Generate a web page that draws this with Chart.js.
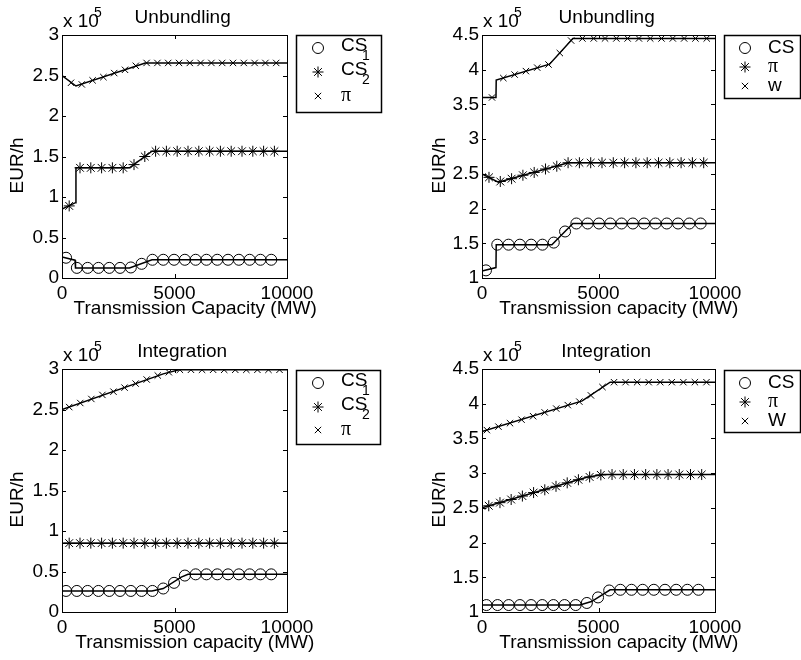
<!DOCTYPE html>
<html>
<head>
<meta charset="utf-8">
<script src="https://cdn.jsdelivr.net/npm/chart.js@4.4.1/dist/chart.umd.min.js"></script>
<style>
body { margin: 0; background: #fff; }
#wrap { position: relative; width: 801px; height: 660px; }
canvas { position: absolute; }
</style>
</head>
<body>
<div id="wrap">
<canvas id="c1" width="400" height="330" style="left:0;top:0"></canvas>
<canvas id="c2" width="401" height="330" style="left:400px;top:0"></canvas>
<canvas id="c3" width="400" height="330" style="left:0;top:330px"></canvas>
<canvas id="c4" width="401" height="330" style="left:400px;top:330px"></canvas>
</div>
<script>
const FONT = "'Liberation Sans', Arial, Helvetica, sans-serif"
const SERIF = "'Liberation Serif', 'DejaVu Serif', serif"

const x_ticks = [0, 5000, 10000]

// Unbundling (left): CS1, CS2, pi   -- values in 1e5 EUR/h
const ub_cs1_line_x = [0, 580, 600, 3000, 4000, 10000]
const ub_cs1_line_y = [0.26, 0.22, 0.125, 0.125, 0.225, 0.225]
const ub_cs1_mark_x = [180, 660, 1140, 1620, 2100, 2580, 3060, 3540, 4020, 4500, 4980, 5460, 5940, 6420, 6900, 7380, 7860, 8340, 8820, 9300]
const ub_cs1_mark_y = [0.25, 0.125, 0.125, 0.125, 0.125, 0.125, 0.13, 0.175, 0.225, 0.225, 0.225, 0.225, 0.225, 0.225, 0.225, 0.225, 0.225, 0.225, 0.225, 0.225]

const ub_cs2_line_x = [0, 600, 620, 3000, 4000, 10000]
const ub_cs2_line_y = [0.85, 0.93, 1.36, 1.36, 1.565, 1.565]
const ub_cs2_mark_x = [320, 800, 1280, 1760, 2240, 2720, 3200, 3680, 4160, 4640, 5120, 5600, 6080, 6560, 7040, 7520, 8000, 8480, 8960, 9440]
const ub_cs2_mark_y = [0.89, 1.36, 1.36, 1.36, 1.36, 1.36, 1.40, 1.50, 1.565, 1.565, 1.565, 1.565, 1.565, 1.565, 1.565, 1.565, 1.565, 1.565, 1.565, 1.565]

const ub_pi_line_x = [0, 620, 3700, 10000]
const ub_pi_line_y = [2.5, 2.37, 2.655, 2.655]
const ub_pi_mark_x = [400, 880, 1360, 1840, 2320, 2800, 3280, 3760, 4240, 4720, 5200, 5680, 6160, 6640, 7120, 7600, 8080, 8560, 9040, 9520]
const ub_pi_mark_y = [2.41, 2.39, 2.44, 2.48, 2.53, 2.57, 2.62, 2.655, 2.655, 2.655, 2.655, 2.655, 2.655, 2.655, 2.655, 2.655, 2.655, 2.655, 2.655, 2.655]

// Unbundling (right): CS, pi, w
const ubt_cs_line_x = [0, 600, 610, 3000, 3900, 10000]
const ubt_cs_line_y = [1.10, 1.15, 1.48, 1.48, 1.785, 1.785]
const ubt_cs_mark_x = [170, 655, 1140, 1625, 2110, 2595, 3080, 3565, 4050, 4535, 5020, 5505, 5990, 6475, 6960, 7445, 7930, 8415, 8900, 9385]
const ubt_cs_mark_y = [1.11, 1.48, 1.48, 1.48, 1.48, 1.48, 1.51, 1.67, 1.785, 1.785, 1.785, 1.785, 1.785, 1.785, 1.785, 1.785, 1.785, 1.785, 1.785, 1.785]

const ubt_pi_line_x = [0, 700, 3700, 10000]
const ubt_pi_line_y = [2.5, 2.38, 2.66, 2.66]
const ubt_pi_mark_x = [300, 785, 1270, 1755, 2240, 2725, 3210, 3695, 4180, 4665, 5150, 5635, 6120, 6605, 7090, 7575, 8060, 8545, 9030, 9515]
const ubt_pi_mark_y = [2.45, 2.39, 2.43, 2.48, 2.52, 2.57, 2.61, 2.66, 2.66, 2.66, 2.66, 2.66, 2.66, 2.66, 2.66, 2.66, 2.66, 2.66, 2.66, 2.66]

const ubt_w_line_x = [0, 600, 610, 2900, 3900, 10000]
const ubt_w_line_y = [3.6, 3.6, 3.85, 4.08, 4.45, 4.45]
const ubt_w_mark_x = [430, 915, 1400, 1885, 2370, 2855, 3340, 3825, 4310, 4795, 5280, 5765, 6250, 6735, 7220, 7705, 8190, 8675, 9160, 9645]
const ubt_w_mark_y = [3.6, 3.88, 3.93, 3.98, 4.03, 4.075, 4.24, 4.42, 4.45, 4.45, 4.45, 4.45, 4.45, 4.45, 4.45, 4.45, 4.45, 4.45, 4.45, 4.45]

// Integration (left): CS1, CS2, pi
const in_cs1_line_x = [0, 4000, 4500, 5300, 5600, 10000]
const in_cs1_line_y = [0.26, 0.26, 0.29, 0.43, 0.465, 0.465]
const in_cs1_mark_x = [180, 660, 1140, 1620, 2100, 2580, 3060, 3540, 4020, 4500, 4980, 5460, 5940, 6420, 6900, 7380, 7860, 8340, 8820, 9300]
const in_cs1_mark_y = [0.26, 0.26, 0.26, 0.26, 0.26, 0.26, 0.26, 0.26, 0.26, 0.29, 0.36, 0.45, 0.465, 0.465, 0.465, 0.465, 0.465, 0.465, 0.465, 0.465]

const in_cs2_line_x = [0, 10000]
const in_cs2_line_y = [0.85, 0.85]
const in_cs2_mark_x = [320, 800, 1280, 1760, 2240, 2720, 3200, 3680, 4160, 4640, 5120, 5600, 6080, 6560, 7040, 7520, 8000, 8480, 8960, 9440]
const in_cs2_mark_y = [0.85, 0.85, 0.85, 0.85, 0.85, 0.85, 0.85, 0.85, 0.85, 0.85, 0.85, 0.85, 0.85, 0.85, 0.85, 0.85, 0.85, 0.85, 0.85, 0.85]

const in_pi_line_x = [0, 4500, 5200, 10000]
const in_pi_line_y = [2.5, 2.94, 2.99, 2.99]
const in_pi_mark_x = [320, 812, 1304, 1796, 2288, 2780, 3272, 3764, 4256, 4748, 5240, 5732, 6224, 6716, 7208, 7700, 8192, 8684, 9176, 9668]
const in_pi_mark_y = [2.53, 2.58, 2.63, 2.68, 2.72, 2.77, 2.82, 2.87, 2.92, 2.96, 2.99, 2.99, 2.99, 2.99, 2.99, 2.99, 2.99, 2.99, 2.99, 2.99]

// Integration (right): CS, pi, W
const int_cs_line_x = [0, 4200, 4700, 5500, 10000]
const int_cs_line_y = [1.1, 1.1, 1.15, 1.32, 1.32]
const int_cs_mark_x = [190, 669, 1148, 1627, 2106, 2585, 3064, 3543, 4022, 4501, 4980, 5459, 5938, 6417, 6896, 7375, 7854, 8333, 8812, 9291]
const int_cs_mark_y = [1.1, 1.1, 1.1, 1.1, 1.1, 1.1, 1.1, 1.1, 1.1, 1.13, 1.21, 1.31, 1.32, 1.32, 1.32, 1.32, 1.32, 1.32, 1.32, 1.32]

const int_pi_line_x = [0, 4500, 5200, 10000]
const int_pi_line_y = [2.5, 2.94, 2.98, 2.98]
const int_pi_mark_x = [290, 771, 1252, 1733, 2214, 2695, 3176, 3657, 4138, 4619, 5100, 5581, 6062, 6543, 7024, 7505, 7986, 8467, 8948, 9429]
const int_pi_mark_y = [2.53, 2.575, 2.62, 2.67, 2.72, 2.76, 2.81, 2.86, 2.905, 2.945, 2.975, 2.98, 2.98, 2.98, 2.98, 2.98, 2.98, 2.98, 2.98, 2.98]

const int_w_line_x = [0, 4300, 5500, 10000]
const int_w_line_y = [3.6, 4.04, 4.31, 4.31]
const int_w_mark_x = [210, 706, 1202, 1698, 2194, 2690, 3186, 3682, 4178, 4674, 5170, 5666, 6162, 6658, 7154, 7650, 8146, 8642, 9138, 9634]
const int_w_mark_y = [3.62, 3.67, 3.72, 3.77, 3.82, 3.875, 3.93, 3.98, 4.03, 4.12, 4.24, 4.31, 4.31, 4.31, 4.31, 4.31, 4.31, 4.31, 4.31, 4.31]

const draw_marker = (ctx, style, r, x, y) => {
    ctx.beginPath()
    if (style === 'circle') {
        ctx.arc(x, y, r, 0, Math.PI * 2)
    } else {
        const angles = style === 'star' ? [0, 45, 90, 135] : [45, 135]
        angles.forEach(d => {
            const c = Math.cos(d * Math.PI / 180) * r
            const s = Math.sin(d * Math.PI / 180) * r
            ctx.moveTo(x - c, y - s)
            ctx.lineTo(x + c, y + s)
        })
    }
    ctx.stroke()
}

// matlab-like box, inner ticks, titles and legend
const frame_plugin = cfg => ({
    id: 'mlFrame',
    afterDraw(chart) {
        const {ctx, chartArea: a} = chart
        const xs = chart.scales.x, ys = chart.scales.y
        ctx.save()
        ctx.strokeStyle = '#000'
        ctx.fillStyle = '#000'
        ctx.lineWidth = 1
        ctx.strokeRect(a.left + 0.5, a.top + 0.5, a.right - a.left, a.bottom - a.top)
        ctx.beginPath()
        xs.ticks.forEach(t => {
            const px = Math.round(xs.getPixelForValue(t.value)) + 0.5
            ctx.moveTo(px, a.bottom); ctx.lineTo(px, a.bottom - 4)
            ctx.moveTo(px, a.top); ctx.lineTo(px, a.top + 4)
        })
        ys.ticks.forEach(t => {
            const py = Math.round(ys.getPixelForValue(t.value)) + 0.5
            ctx.moveTo(a.left, py); ctx.lineTo(a.left + 4, py)
            ctx.moveTo(a.right, py); ctx.lineTo(a.right - 4, py)
        })
        ctx.stroke()

        const cx = (a.left + a.right) / 2
        ctx.textBaseline = 'middle'
        ctx.textAlign = 'left'
        ctx.font = '19px ' + FONT
        let w = ctx.measureText(cfg.title).width
        ctx.fillText(cfg.title, cx - 0.415 * w, a.top - 17)
        w = ctx.measureText(cfg.xlabel).width
        ctx.fillText(cfg.xlabel, cx - 0.415 * w, a.bottom + 31)
        ctx.fillText('x 10', a.left + 1, a.top - 13)
        ctx.font = '14px ' + FONT
        ctx.fillText('5', a.left + 32, a.top - 22)

        ctx.save()
        ctx.font = '19px ' + FONT
        ctx.translate(cfg.ylabel_x, (a.top + a.bottom) / 2 + 9)
        ctx.rotate(-Math.PI / 2)
        ctx.textAlign = 'center'
        ctx.fillText('EUR/h', 0, 0)
        ctx.restore()

        const lg = cfg.legend
        ctx.fillStyle = '#fff'
        ctx.fillRect(lg.x, lg.y, lg.w, lg.h)
        ctx.lineWidth = 1.5
        ctx.strokeRect(lg.x + 0.5, lg.y + 0.5, lg.w, lg.h)
        ctx.lineWidth = 1
        ctx.fillStyle = '#000'
        cfg.series.forEach((s, i) => {
            const ry = lg.y + lg.rows[i]
            draw_marker(ctx, s.style, s.r, lg.x + lg.mx, ry)
            if (s.serif) {
                ctx.font = '20px ' + SERIF
                ctx.fillText(s.label, lg.x + lg.tx, ry)
            } else {
                ctx.font = '19px ' + FONT
                ctx.fillText(s.label, lg.x + lg.tx, s.sub ? ry - 2 : ry)
            }
            if (s.sub) {
                ctx.font = '14px ' + FONT
                ctx.fillText(s.sub, lg.x + lg.tx + 21, ry + 8)
            }
        })
        ctx.restore()
    }
})

const make_chart = (id, cfg) => {
    const canvas = document.getElementById(id)
    const a = cfg.area
    const datasets = []
    cfg.series.forEach(s => {
        datasets.push({
            data: s.lx.map((x, i) => ({x: x, y: s.ly[i]})),
            showLine: true,
            borderColor: '#000',
            borderWidth: 1.5,
            pointRadius: 0
        })
        datasets.push({
            data: s.mx.map((x, i) => ({x: x, y: s.my[i]})),
            showLine: false,
            pointStyle: s.style,
            pointRadius: s.r,
            pointBorderWidth: 1,
            borderColor: '#000',
            backgroundColor: 'rgba(0,0,0,0)'
        })
    })
    const tick_font = {family: FONT, size: 19}
    new Chart(canvas, {
        type: 'scatter',
        data: {datasets: datasets},
        options: {
            responsive: false,
            animation: false,
            events: [],
            layout: {padding: {left: 0, top: a.top, right: canvas.width - a.right, bottom: 0}},
            scales: {
                x: {
                    type: 'linear',
                    min: 0,
                    max: 10000,
                    afterBuildTicks: s => { s.ticks = x_ticks.map(v => ({value: v})) },
                    afterFit: s => { s.height = canvas.height - a.bottom },
                    grid: {display: false, drawTicks: false},
                    border: {display: false},
                    ticks: {font: tick_font, color: '#000', padding: 4, maxRotation: 0, autoSkip: false,
                            callback: v => String(v)}
                },
                y: {
                    type: 'linear',
                    min: cfg.ymin,
                    max: cfg.ymax,
                    afterFit: s => { s.width = a.left },
                    grid: {display: false, drawTicks: false},
                    border: {display: false},
                    ticks: {font: tick_font, color: '#000', padding: 3, stepSize: 0.5,
                            callback: v => String(v)}
                }
            },
            plugins: {
                legend: {display: false},
                tooltip: {enabled: false}
            }
        },
        plugins: [frame_plugin(cfg)]
    })
}

make_chart('c1', {
    area: {left: 62, top: 35, right: 287, bottom: 278},
    ymin: 0, ymax: 3,
    title: 'Unbundling', xlabel: 'Transmission Capacity (MW)', ylabel_x: 18,
    legend: {x: 296, y: 35, w: 85, h: 77, mx: 22, tx: 45, rows: [13, 37, 61]},
    series: [
        {label: 'CS', sub: '1', style: 'circle', r: 5.5, lx: ub_cs1_line_x, ly: ub_cs1_line_y, mx: ub_cs1_mark_x, my: ub_cs1_mark_y},
        {label: 'CS', sub: '2', style: 'star', r: 5.5, lx: ub_cs2_line_x, ly: ub_cs2_line_y, mx: ub_cs2_mark_x, my: ub_cs2_mark_y},
        {label: 'π', serif: true, style: 'crossRot', r: 4.5, lx: ub_pi_line_x, ly: ub_pi_line_y, mx: ub_pi_mark_x, my: ub_pi_mark_y}
    ]
})

make_chart('c2', {
    area: {left: 82, top: 35, right: 315, bottom: 278},
    ymin: 1, ymax: 4.5,
    title: 'Unbundling', xlabel: 'Transmission capacity (MW)', ylabel_x: 40,
    legend: {x: 324, y: 35, w: 76, h: 63, mx: 21, tx: 44, rows: [13, 32, 51]},
    series: [
        {label: 'CS', style: 'circle', r: 5.5, lx: ubt_cs_line_x, ly: ubt_cs_line_y, mx: ubt_cs_mark_x, my: ubt_cs_mark_y},
        {label: 'π', serif: true, style: 'star', r: 5.5, lx: ubt_pi_line_x, ly: ubt_pi_line_y, mx: ubt_pi_mark_x, my: ubt_pi_mark_y},
        {label: 'w', style: 'crossRot', r: 4.5, lx: ubt_w_line_x, ly: ubt_w_line_y, mx: ubt_w_mark_x, my: ubt_w_mark_y}
    ]
})

make_chart('c3', {
    area: {left: 62, top: 39, right: 287, bottom: 282},
    ymin: 0, ymax: 3,
    title: 'Integration', xlabel: 'Transmission capacity (MW)', ylabel_x: 18,
    legend: {x: 296, y: 40, w: 84, h: 74, mx: 22, tx: 45, rows: [13, 37, 60]},
    series: [
        {label: 'CS', sub: '1', style: 'circle', r: 5.5, lx: in_cs1_line_x, ly: in_cs1_line_y, mx: in_cs1_mark_x, my: in_cs1_mark_y},
        {label: 'CS', sub: '2', style: 'star', r: 5.5, lx: in_cs2_line_x, ly: in_cs2_line_y, mx: in_cs2_mark_x, my: in_cs2_mark_y},
        {label: 'π', serif: true, style: 'crossRot', r: 4.5, lx: in_pi_line_x, ly: in_pi_line_y, mx: in_pi_mark_x, my: in_pi_mark_y}
    ]
})

make_chart('c4', {
    area: {left: 82, top: 39, right: 315, bottom: 282},
    ymin: 1, ymax: 4.5,
    title: 'Integration', xlabel: 'Transmission capacity (MW)', ylabel_x: 40,
    legend: {x: 324, y: 40, w: 76, h: 62, mx: 21, tx: 44, rows: [13, 32, 51]},
    series: [
        {label: 'CS', style: 'circle', r: 5.5, lx: int_cs_line_x, ly: int_cs_line_y, mx: int_cs_mark_x, my: int_cs_mark_y},
        {label: 'π', serif: true, style: 'star', r: 5.5, lx: int_pi_line_x, ly: int_pi_line_y, mx: int_pi_mark_x, my: int_pi_mark_y},
        {label: 'W', style: 'crossRot', r: 4.5, lx: int_w_line_x, ly: int_w_line_y, mx: int_w_mark_x, my: int_w_mark_y}
    ]
})
</script>
</body>
</html>
